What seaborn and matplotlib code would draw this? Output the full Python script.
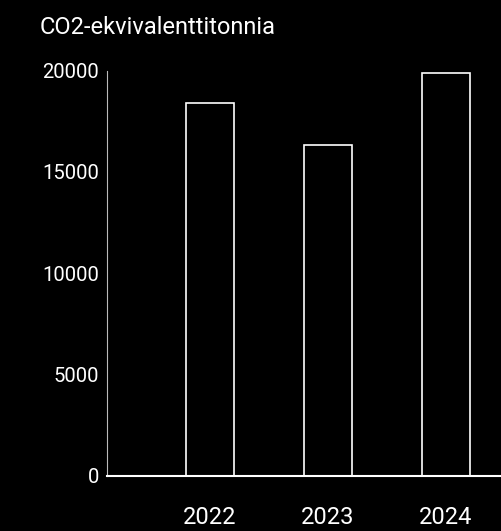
import matplotlib
matplotlib.use("Agg")
import matplotlib.pyplot as plt
import seaborn as sns

# Datos
vuodet = ["2022", "2023", "2024"]
paastot = [18380, 16330, 19870]
y_ticks = [0, 5000, 10000, 15000, 20000]

sns.set_style("dark")
plt.rcParams['font.family'] = ['Roboto', 'DejaVu Sans']

fig = plt.figure(figsize=(5.02, 5.31), dpi=100, facecolor="black")
ax = fig.add_axes([107 / 502, 55.5 / 531, 395 / 502, 404.8 / 531])
ax.set_facecolor("black")

# Barras sin relleno, solo borde blanco
sns.barplot(x=vuodet, y=paastot, color="black", edgecolor="white",
            linewidth=1.2, width=0.407, saturation=1, ax=ax)

ax.set_xlim(-0.873, 2.475)
ax.set_ylim(0, 20000)
ax.set_yticks(y_ticks)
ax.set_yticklabels([str(t) for t in y_ticks])
ax.tick_params(axis="y", colors="white", labelsize=14.6, length=0, pad=5.5)
ax.tick_params(axis="x", colors="white", labelsize=17, length=0, pad=22)
ax.grid(False)

for lado in ["top", "right"]:
    ax.spines[lado].set_visible(False)
ax.spines["left"].set_color("#bbbbbb")
ax.spines["left"].set_linewidth(0.8)
ax.spines["bottom"].set_color("white")
ax.spines["bottom"].set_linewidth(1.5)
ax.set_xlabel("")
ax.set_ylabel("")

fig.text(40 / 502, 1 - 28 / 531, "CO2-ekvivalenttitonnia", color="white",
         fontsize=17, va="center", ha="left")

fig.savefig("out.png", dpi=100, facecolor="black")
